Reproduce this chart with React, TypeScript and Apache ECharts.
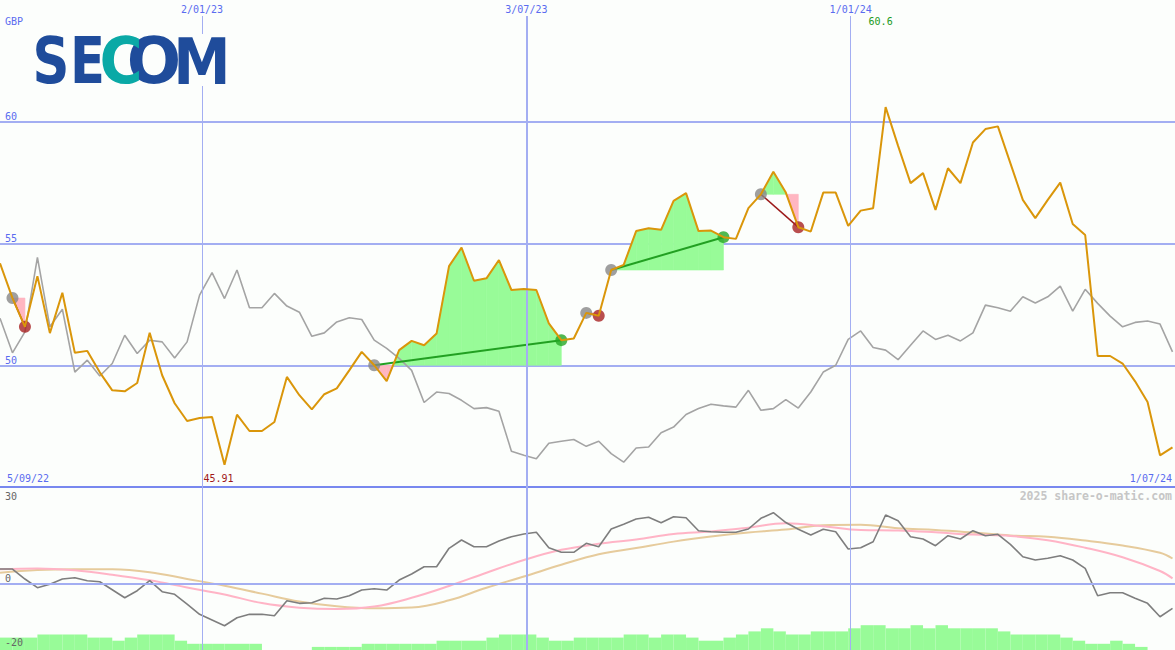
import React, { useEffect, useRef } from 'react';
import * as echarts from 'echarts';

// ---------- DATA (weekly, index 0 = week of 5/09/22) ----------
const price = [
  54.19, 52.76, 51.58, 53.66, 51.32, 52.98, 50.51, 50.59, 49.71, 48.97,
  48.93, 49.27, 51.33, 49.59, 48.44, 47.71, 47.83, 47.87, 45.91, 47.97,
  47.30, 47.30, 47.67, 49.52, 48.77, 48.19, 48.81, 49.05, 49.79, 50.55,
  50.00, 49.35, 50.62, 51.00, 50.82, 51.30, 54.07, 54.83, 53.47, 53.57,
  54.32, 53.09, 53.13, 53.09, 51.72, 51.03, 51.10, 52.15, 52.03, 53.91,
  54.12, 55.51, 55.63, 55.56, 56.75, 57.07, 55.51, 55.53, 55.26, 55.19,
  56.45, 57.02, 57.95, 57.09, 55.67, 55.49, 57.09, 57.09, 55.72, 56.35,
  56.45, 60.60, 59.01, 57.48, 57.89, 56.38, 58.09, 57.48, 59.15, 59.70,
  59.81, 58.30, 56.79, 56.04, 56.79, 57.50, 55.80, 55.35, 50.38, 50.38,
  50.07, 49.34, 48.49, 46.30, 46.63,
];

const relative = [
  51.93, 50.51, 51.37, 54.43, 51.58, 52.30, 49.72, 50.21, 49.56, 50.07,
  51.23, 50.48, 51.03, 50.96, 50.30, 50.96, 52.88, 53.80, 52.74, 53.91,
  52.36, 52.36, 52.95, 52.43, 52.18, 51.19, 51.33, 51.78, 51.95, 51.88,
  51.03, 50.69, 50.28, 49.79, 48.47, 48.90, 48.84, 48.56, 48.22, 48.26,
  48.11, 46.47, 46.30, 46.16, 46.80, 46.88, 46.95, 46.67, 46.88, 46.37,
  46.02, 46.60, 46.64, 47.23, 47.46, 47.98, 48.22, 48.40, 48.33, 48.28,
  48.97, 48.15, 48.22, 48.59, 48.24, 48.90, 49.72, 50.00, 51.06, 51.41,
  50.73, 50.62, 50.23, 50.82, 51.41, 51.06, 51.23, 51.00, 51.33, 52.47,
  52.36, 52.22, 52.81, 52.56, 52.81, 53.25, 52.22, 53.12, 52.54, 52.02,
  51.58, 51.76, 51.82, 51.69, 50.55,
];

const momentum = [
  4.64, 4.64, 1.55, -1.14, -0.09, 1.55, 1.95, 1.02, 0.71, -1.76,
  -4.24, -2.07, 1.02, -2.38, -3.19, -6.19, -9.37, -11.14, -12.90, -10.42,
  -9.37, -9.37, -9.81, -5.17, -5.97, -5.78, -4.42, -4.64, -3.62, -1.86,
  -1.45, -1.86, 1.24, 3.09, 5.35, 5.35, 11.04, 13.61, 11.54, 11.54,
  13.30, 14.63, 15.47, 15.99, 11.23, 9.81, 9.81, 12.59, 11.54, 17.01,
  18.47, 20.11, 20.63, 18.96, 20.82, 20.51, 16.49, 16.18, 15.99, 15.99,
  17.01, 20.32, 22.05, 19.02, 16.92, 15.16, 16.92, 16.18, 10.83, 11.23,
  13.08, 21.34, 19.58, 14.63, 13.92, 11.85, 14.94, 13.92, 16.49, 14.94,
  15.37, 12.28, 8.44, 7.42, 7.95, 8.75, 7.42, 4.86, -3.62, -2.69,
  -2.69, -4.42, -5.97, -10.11, -7.52,
];

// moving averages, read every third week
const maWeeks = [0, 3, 6, 9, 12, 15, 18, 21, 24, 27, 30, 33, 36, 39, 42, 45, 48, 51, 54, 57, 60, 63, 66, 69, 72, 75, 78, 81, 84, 87, 90, 93, 94];
const maFast = [4.55, 4.83, 4.24, 2.88, 1.14, -1.08, -3.25, -5.88, -7.30, -7.73, -6.96, -4.27, -0.62, 3.50, 7.42, 10.58, 12.43, 13.76, 15.47, 16.24, 17.41, 18.78, 17.88, 16.70, 16.55, 15.99, 15.28, 14.85, 13.55, 11.23, 8.26, 4.02, 1.76];
const maSlow = [3.50, 4.33, 4.58, 4.55, 3.65, 1.58, -0.53, -2.97, -5.41, -6.90, -7.52, -7.27, -5.04, -1.14, 2.32, 5.94, 9.22, 11.14, 13.11, 14.69, 15.96, 16.86, 18.19, 18.34, 17.23, 16.70, 15.90, 15.00, 14.63, 13.45, 11.91, 9.65, 7.89];

const volume = [
  4, 4, 4, 5, 5, 5, 5, 4, 4, 3,
  4, 5, 5, 5, 3, 2, 2, 2, 2, 2,
  2, 0, 0, 0, 0, 1, 1, 1, 1, 2,
  2, 2, 2, 2, 2, 3, 3, 3, 3, 4,
  5, 5, 5, 4, 3, 3, 4, 4, 4, 4,
  5, 5, 4, 5, 5, 4, 3, 3, 4, 5,
  6, 7, 6, 5, 5, 6, 6, 6, 7, 8,
  8, 7, 7, 8, 7, 8, 7, 7, 7, 7,
  6, 5, 5, 5, 5, 4, 3, 2, 2, 3,
  2, 1, 0, 0, 0,
];

// trades (week indices)
const tradeEntry = [1, 30, 47, 49, 61];
const tradeExit = [2, 45, 48, 58, 64];

// date axis
const dateWeeks = [16.2, 42.2, 68.2];
const dateLabels = ['2/01/23', '3/07/23', '1/01/24'];
const firstDate = '5/09/22';
const lastDate = '1/07/24';
const lastWeek = 94.2;

const priceTicks = [50, 55, 60];
const momTicks = [30, 0, -20];
const currency = 'GBP';
const credit = '2025 share-o-matic.com';

// ---------- STYLE ----------
const W = 1175;
const H = 650;
const FONT = '"DejaVu Sans Mono", monospace';
const BLUE = '#5a6cf0';
const GRID = '#a3aef2';
const GAIN = '#98fb98';
const LOSS = '#ffb6c1';
const dateLineWidth = [1, 2, 1];

export default function App() {
  const ref = useRef<HTMLDivElement>(null);

  useEffect(() => {
    const chart = echarts.init(ref.current as HTMLDivElement, null, { renderer: 'svg' });
    const weeks = price.map((_, i) => i);

    const fillItem = (params: any, api: any) => {
      const e = api.value(0) as number;
      const x = api.value(2) as number;
      const lvl = price[e];
      const kids: any[] = [];
      const poly = (pts: number[][], fill: string) =>
        kids.push({
          type: 'polygon',
          shape: { points: pts.map((p) => api.coord(p)) },
          style: { fill, stroke: fill, lineWidth: 0.6 },
        });
      for (let i = e; i < x; i++) {
        const a = price[i] - lvl;
        const b = price[i + 1] - lvl;
        if (a >= 0 && b >= 0) {
          poly([[i, lvl], [i, price[i]], [i + 1, price[i + 1]], [i + 1, lvl]], GAIN);
        } else if (a <= 0 && b <= 0) {
          poly([[i, lvl], [i, price[i]], [i + 1, price[i + 1]], [i + 1, lvl]], LOSS);
        } else {
          const xc = i + a / (a - b);
          poly([[i, lvl], [i, price[i]], [xc, lvl]], a > 0 ? GAIN : LOSS);
          poly([[xc, lvl], [i + 1, price[i + 1]], [i + 1, lvl]], b > 0 ? GAIN : LOSS);
        }
      }
      return { type: 'group', children: kids };
    };

    const linkItem = (params: any, api: any) => {
      const e = api.value(0) as number;
      const x = api.value(2) as number;
      const p0 = api.coord([e, price[e]]);
      const p1 = api.coord([x, price[x]]);
      const win = price[x] > price[e];
      return {
        type: 'line',
        shape: { x1: p0[0], y1: p0[1], x2: p1[0], y2: p1[1] },
        style: { stroke: win ? '#22a022' : '#9c1a1a', lineWidth: win ? 2 : 1.5 },
      };
    };

    const volItem = (params: any, api: any) => {
      const i = api.value(0) as number;
      const v = api.value(1) as number;
      const p0 = api.coord([i, v]);
      const p1 = api.coord([i + 1, 0]);
      return {
        type: 'rect',
        shape: { x: p0[0], y: p0[1], width: p1[0] - p0[0], height: p1[1] - p0[1] },
        style: { fill: GAIN },
      };
    };

    const tradeData = tradeEntry.map((e, k) => [e, price[e], tradeExit[k]]);

    const option: any = {
      animation: false,
      backgroundColor: '#fcfefc',
      grid: [
        { left: 0, right: 0, top: 16, height: 471 },
        { left: 0, right: 0, top: 487, height: 163 },
      ],
      xAxis: [
        {
          type: 'value', gridIndex: 0, min: 0, max: lastWeek,
          axisLine: { show: true, onZero: false, lineStyle: { color: '#7888ef', width: 2 } },
          axisTick: { show: false }, axisLabel: { show: false }, splitLine: { show: false },
        },
        {
          type: 'value', gridIndex: 1, min: 0, max: lastWeek,
          axisLine: { show: false }, axisTick: { show: false }, axisLabel: { show: false }, splitLine: { show: false },
        },
      ],
      yAxis: [
        {
          type: 'value', gridIndex: 0, min: 45, max: 64.343, interval: 5,
          axisLine: { show: false }, axisTick: { show: false },
          axisLabel: {
            inside: true, margin: 5, verticalAlign: 'bottom', color: BLUE,
            fontFamily: FONT, fontSize: 10,
            formatter: (v: number) => (priceTicks.includes(v) ? String(v) : ''),
          },
          splitLine: { show: true, showMinLine: false, showMaxLine: false, lineStyle: { color: GRID, width: 2 } },
        },
        {
          type: 'value', gridIndex: 1, min: -20.4, max: 30,
          axisLine: { show: false }, axisTick: { show: false }, axisLabel: { show: false }, splitLine: { show: false },
        },
        {
          type: 'value', gridIndex: 1, min: 0, max: 52.58,
          axisLine: { show: false }, axisTick: { show: false }, axisLabel: { show: false }, splitLine: { show: false },
        },
      ],
      series: [
        // date lines top panel
        {
          type: 'line', xAxisIndex: 0, yAxisIndex: 0, z: 0, silent: true, symbol: 'none',
          data: weeks.map((i) => [i, price[i]]), lineStyle: { opacity: 0 },
          markLine: {
            silent: true, symbol: ['none', 'none'], animation: false,
            data: dateWeeks.map((d, k) => ({
              xAxis: d,
              lineStyle: { color: GRID, width: dateLineWidth[k], type: 'solid' },
              label: {
                show: true, position: 'end', distance: 2, formatter: dateLabels[k],
                color: BLUE, fontFamily: FONT, fontSize: 10,
              },
            })),
          },
        },
        // trade fills
        {
          type: 'custom', xAxisIndex: 0, yAxisIndex: 0, z: 1, silent: true,
          renderItem: fillItem, data: tradeData,
        },
        // relative line
        {
          type: 'line', xAxisIndex: 0, yAxisIndex: 0, z: 2, silent: true, symbol: 'none',
          data: weeks.map((i) => [i, relative[i]]),
          lineStyle: { color: '#a4a4a4', width: 1.6 },
        },
        // trade links
        {
          type: 'custom', xAxisIndex: 0, yAxisIndex: 0, z: 3, silent: true,
          renderItem: linkItem, data: tradeData,
        },
        // entry markers
        {
          type: 'scatter', xAxisIndex: 0, yAxisIndex: 0, z: 4, silent: true,
          symbolSize: 12, itemStyle: { color: '#878787' },
          data: tradeEntry.map((e) => [e, price[e]]),
        },
        // exit markers
        {
          type: 'scatter', xAxisIndex: 0, yAxisIndex: 0, z: 4, silent: true,
          symbolSize: 12,
          data: tradeExit.map((x, k) => ({
            value: [x, price[x]],
            itemStyle: { color: price[x] > price[tradeEntry[k]] ? '#26a626' : '#a82222' },
          })),
        },
        // price
        {
          type: 'line', xAxisIndex: 0, yAxisIndex: 0, z: 5, silent: true, symbol: 'none',
          data: weeks.map((i) => [i, price[i]]),
          lineStyle: { color: '#da960a', width: 2 },
        },
        // bottom panel guide lines
        {
          type: 'line', xAxisIndex: 1, yAxisIndex: 1, z: 0, silent: true, symbol: 'none',
          data: weeks.map((i) => [i, momentum[i]]), lineStyle: { opacity: 0 },
          markLine: {
            silent: true, symbol: ['none', 'none'], animation: false,
            label: { show: false },
            data: [
              ...dateWeeks.map((d, k) => ({ xAxis: d, lineStyle: { color: GRID, width: dateLineWidth[k], type: 'solid' } })),
              { yAxis: 0, lineStyle: { color: GRID, width: 2, type: 'solid' } },
            ],
          },
        },
        // volume
        {
          type: 'custom', xAxisIndex: 1, yAxisIndex: 2, z: 1, silent: true,
          renderItem: volItem, data: weeks.map((i) => [i, volume[i]]),
        },
        {
          type: 'line', xAxisIndex: 1, yAxisIndex: 1, z: 2, silent: true, symbol: 'none', smooth: 0.4,
          data: maWeeks.map((w, k) => [w, maSlow[k]]),
          lineStyle: { color: '#e6cb9c', width: 2 },
        },
        {
          type: 'line', xAxisIndex: 1, yAxisIndex: 1, z: 3, silent: true, symbol: 'none', smooth: 0.4,
          data: maWeeks.map((w, k) => [w, maFast[k]]),
          lineStyle: { color: '#ffb4c6', width: 2 },
        },
        {
          type: 'line', xAxisIndex: 1, yAxisIndex: 1, z: 4, silent: true, symbol: 'none',
          data: weeks.map((i) => [i, momentum[i]]),
          lineStyle: { color: '#7e7e7e', width: 1.6 },
        },
      ],
    };
    chart.setOption(option);

    // ---- texts placed through the axes ----
    const px0 = (x: number, y: number) => chart.convertToPixel({ xAxisIndex: 0, yAxisIndex: 0 }, [x, y]) as number[];
    const px1 = (x: number, y: number) => chart.convertToPixel({ xAxisIndex: 1, yAxisIndex: 1 }, [x, y]) as number[];
    let hi = 0;
    let lo = 0;
    price.forEach((v, i) => {
      if (v > price[hi]) hi = i;
      if (v < price[lo]) lo = i;
    });
    const txt = (text: string, x: number, y: number, color: string, align = 'left', vAlign = 'middle', font = `10px ${FONT}`) => ({
      type: 'text', x, y, z: 60, silent: true,
      style: { text, fill: color, font, textAlign: align, textVerticalAlign: vAlign },
    });
    const bottomY = px0(0, 45)[1];
    const hiX = px0(hi, price[hi])[0];
    const loX = px0(lo, price[lo])[0];
    const texts: any[] = [
      txt(currency, 5, 21, BLUE),
      txt(firstDate, 7, bottomY - 9, BLUE),
      txt(lastDate, W - 3, bottomY - 9, BLUE, 'right'),
      txt(price[hi].toFixed(1), hiX - 5, 21, '#229a22', 'center'),
      txt(price[lo].toFixed(2), loX - 6, bottomY - 9, '#a01818', 'center'),
      txt(credit, W - 3, 496, '#c6c6c6', 'right', 'middle', `bold 11.5px ${FONT}`),
      ...momTicks.map((v) => {
        const y = px1(0, v)[1];
        return v === 30 ? txt(String(v), 5, y + 4, '#666666', 'left', 'top') : txt(String(v), 5, y - 1, '#666666', 'left', 'bottom');
      }),
    ];

    // logo
    const logoFont = 'bold 64px "DejaVu Sans"';
    const LB = '#1f4c9b';
    const LT = '#0aa9a6';
    const letter = (t: string, cx: number, sx: number, color: string) => ({
      type: 'text', x: cx, y: 61, scaleX: sx, z: 71, silent: true,
      style: { text: t, fill: color, font: logoFont, textAlign: 'center', textVerticalAlign: 'middle' },
    });
    const logo: any[] = [
      { type: 'rect', z: 70, silent: true, shape: { x: 32, y: 34, width: 199, height: 52 }, style: { fill: '#fcfefc' } },
      letter('S', 51, 0.8, LB),
      letter('E', 87.5, 0.8, LB),
      letter('O', 154, 1.0, LB),
      letter('C', 121, 0.92, LT),
      letter('M', 202, 0.9, LB),
    ];

    chart.setOption({ graphic: [...logo, ...texts] });

    return () => chart.dispose();
  }, []);

  return (
    <div
      ref={ref}
      style={{ position: 'fixed', left: 0, top: 0, width: W, height: H, background: '#fcfefc' }}
    />
  );
}
